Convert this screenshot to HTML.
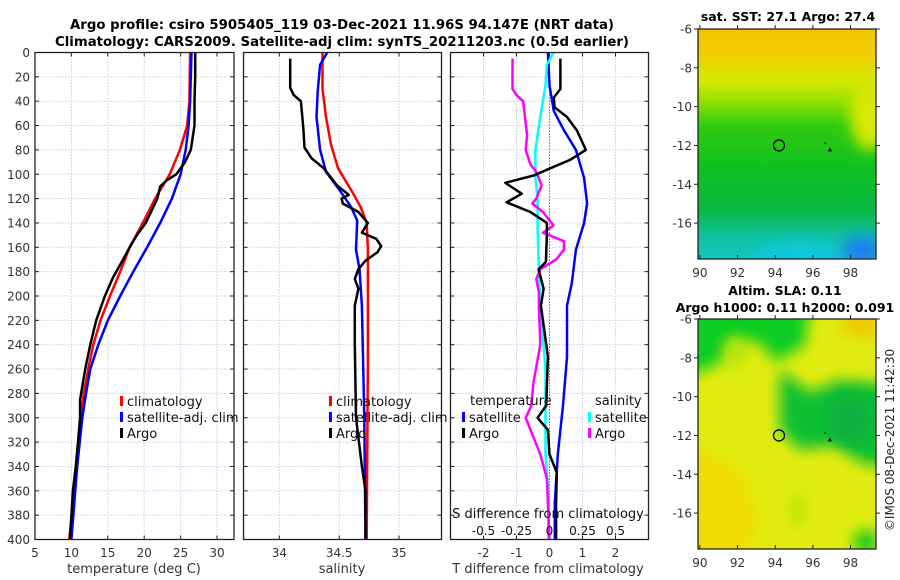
<!DOCTYPE html>
<html><head><meta charset="utf-8"><style>
body{margin:0;background:#fff;}
svg{display:block;font-family:"DejaVu Sans","Liberation Sans",sans-serif;}
</style></head><body>
<svg id="c" width="900" height="580" viewBox="0 0 900 580" xmlns="http://www.w3.org/2000/svg">
<defs>
<linearGradient id="sstg" x1="0" y1="0" x2="0" y2="1">
<stop offset="0" stop-color="#f2c400"/><stop offset="0.12" stop-color="#f0d000"/><stop offset="0.22" stop-color="#d8e800"/><stop offset="0.32" stop-color="#8ee000"/><stop offset="0.42" stop-color="#30cc10"/><stop offset="0.6" stop-color="#10c020"/><stop offset="0.78" stop-color="#08b840"/><stop offset="0.9" stop-color="#10c0a0"/><stop offset="1" stop-color="#10c8c0"/>
</linearGradient>
<filter id="bl" x="-100%" y="-100%" width="300%" height="300%"><feGaussianBlur stdDeviation="7"/></filter>
<clipPath id="m1c"><rect x="698" y="29" width="178" height="230"/></clipPath>
<clipPath id="m2c"><rect x="698" y="319" width="178" height="230"/></clipPath>
</defs>
</svg>
<script>
// ---- data (depth in dbar) ----
const tempDepth=[0,20,40,60,80,90,100,105,110,120,130,140,150,160,170,185,200,220,240,260,285,300,320,340,360,400];
const tempArgo=[27,27,26.9,26.9,26.4,25.6,24.4,23.1,22.2,21.8,21,20.2,19,18,17.1,15.7,14.6,13.4,12.6,11.9,11.2,11.2,10.9,10.6,10.2,9.8];
const climDepth=[0,40,60,80,100,120,140,160,180,200,220,240,260,280,300,340,400];
const tempClim=[26.3,26.2,25.9,24.9,23.5,21.5,19.8,18,16.7,15.3,14,13,12.3,11.7,11.3,10.8,9.7];
const tempSat=[26.5,26.3,26.1,25.7,25,23.8,22.2,20.4,18.5,16.7,15,13.7,12.6,12,11.5,10.8,10];
const salArgoDepth=[5,29,35,40,62,78,87,95,109,117,120,124,131,140,148,153,159,164,171,178,186,194,208,240,300,340,360,400];
const salArgo=[34.09,34.09,34.12,34.18,34.2,34.21,34.27,34.37,34.48,34.58,34.52,34.53,34.66,34.74,34.69,34.81,34.85,34.82,34.72,34.66,34.63,34.66,34.63,34.63,34.64,34.69,34.72,34.72];
const salClimDepth=[0,30,53,75,95,113,127,140,162,250,400];
const salClim=[34.36,34.36,34.39,34.43,34.49,34.6,34.68,34.73,34.74,34.74,34.73];
const salSatDepth=[0,10,32,53,80,98,114,127,138,162,178,208,300,400];
const salSat=[34.4,34.34,34.32,34.31,34.34,34.39,34.51,34.6,34.65,34.64,34.67,34.69,34.71,34.72];
const dTArgoDepth=[5,30,37,45,53,64,80,88,95,101,107,116,123,131,140,150,172,178,194,208,250,290,300,310,330,345,370,400];
const dTArgo=[0.33,0.33,0.13,0.15,0.53,0.83,1.1,0.64,0.03,-0.48,-1.34,-0.84,-1.3,-0.58,-0.08,-0.08,-0.11,-0.33,-0.18,-0.26,-0.05,-0.1,-0.36,-0.05,0,0.22,0.2,0.2];
const dTSatDepth=[0,27,48,64,80,103,124,140,162,189,208,250,290,330,370,400];
const dTSat=[-0.05,0,0.13,0.44,0.8,1.05,1.14,1.05,0.8,0.68,0.53,0.53,0.41,0.25,0.16,0.16];
const dSArgoDepth=[5,30,35,40,68,80,92,98,109,120,124,131,142,148,155,162,170,178,186,197,208,240,270,291,300,330,350,400];
const dSArgo=[-0.28,-0.28,-0.25,-0.2,-0.17,-0.18,-0.145,-0.1,-0.06,-0.1,-0.13,-0.05,0.03,-0.05,0.11,0.11,0.05,-0.07,-0.1,-0.08,-0.08,-0.07,-0.12,-0.14,-0.18,-0.07,-0.02,0];
const dSSatDepth=[0,10,27,53,80,103,120,146,178,208,260,330,360,400];
const dSSat=[0.03,-0.02,-0.03,-0.07,-0.107,-0.107,-0.09,-0.09,-0.08,-0.07,-0.03,-0.03,-0.01,-0.01];
const depthTicks=[0,20,40,60,80,100,120,140,160,180,200,220,240,260,280,300,320,340,360,380,400];
const tTicks=[5,10,15,20,25,30];
const sTicks=[34,34.5,35];
const dtTicks=[-2,-1,0,1,2];
const dsTicks=[-0.5,-0.25,0,0.25,0.5];
const lonTicks=[90,92,94,96,98];
const latTicks=[-6,-8,-10,-12,-14,-16];
const argoLon=94.2, argoLat=-12;

const NS='http://www.w3.org/2000/svg';
const svg=document.getElementById('c');
function mk(tag,attrs,parent){const e=document.createElementNS(NS,tag);for(const k in attrs)e.setAttribute(k,attrs[k]);(parent||svg).appendChild(e);return e;}
function txt(x,y,s,attrs,parent){const e=mk('text',Object.assign({x:x,y:y},attrs||{}),parent);e.textContent=s;return e;}

const Y0=52.5,Y1=539.5;
const yD=d=>Y0+(d/400)*(Y1-Y0);
const panels=[
 {x0:35,x1:234,v0:5,v1:32.33,name:'temperature-panel'},
 {x0:243.5,x1:441.5,v0:33.7,v1:35.355,name:'salinity-panel'},
 {x0:450.5,x1:648.5,v0:-3,v1:3,name:'difference-panel'}];
function xf(p){return v=>p.x0+(v-p.v0)/(p.v1-p.v0)*(p.x1-p.x0);}
const xT=xf(panels[0]),xS=xf(panels[1]),xDT=xf(panels[2]);
const xDS=v=>xDT(v*4);

let t=txt(342,29,'Argo profile: csiro 5905405_119 03-Dec-2021 11.96S 94.147E (NRT data)',{'text-anchor':'middle','font-size':'13.3','font-weight':'bold','fill':'#000'});


t=txt(342,46,'Climatology: CARS2009. Satellite-adj clim: synTS_20211203.nc (0.5d earlier)',{'text-anchor':'middle','font-size':'13.3','font-weight':'bold','fill':'#000'});



function gridPanel(p,ticks,xfun){
 const g=mk('g',{});
 
 
 depthTicks.forEach(d=>{mk('line',{x1:p.x0,x2:p.x1,y1:yD(d),y2:yD(d),stroke:'#c8cde8','stroke-width':1,'stroke-dasharray':'1.5,1.5'},g);
   mk('line',{x1:p.x0,x2:p.x0+4,y1:yD(d),y2:yD(d),stroke:'#222'},g);mk('line',{x1:p.x1-4,x2:p.x1,y1:yD(d),y2:yD(d),stroke:'#222'},g);});
 ticks.forEach(v=>{const x=xfun(v);mk('line',{x1:x,x2:x,y1:Y0,y2:Y1,stroke:'#c8cde8','stroke-width':1,'stroke-dasharray':'1.5,1.5'},g);
   mk('line',{x1:x,x2:x,y1:Y1-4,y2:Y1,stroke:'#222'},g);mk('line',{x1:x,x2:x,y1:Y0,y2:Y0+4,stroke:'#222'},g);
   const l=txt(x,557,String(v),{'text-anchor':'middle','font-size':'12','fill':'#333'},g);
   
   });
 return g;
}
gridPanel(panels[0],tTicks,xT);
gridPanel(panels[1],sTicks,xS);
const g3=gridPanel(panels[2],dtTicks,xDT);
mk('line',{x1:xDT(0),x2:xDT(0),y1:Y0,y2:Y1,stroke:'#333','stroke-width':1,'stroke-dasharray':'1,2'},g3);

depthTicks.forEach(d=>{const l=txt(30,yD(d)+4.5,String(d),{'text-anchor':'end','font-size':'12','fill':'#333'});
 
 });

function line(xs,ys,xfun,col,w,name){
 const pts=xs.map((v,i)=>xfun(v).toFixed(1)+','+yD(ys[i]).toFixed(1)).join(' ');
 const e=mk('polyline',{points:pts,fill:'none',stroke:col,'stroke-width':w,'stroke-linejoin':'round'});
 
 
}
line(tempClim,climDepth,xT,'#ff0000',2.5,'temp-climatology-line');
line(tempSat,climDepth,xT,'#0000ff',2.5,'temp-satellite-line');
line(tempArgo,tempDepth,xT,'#000',2.5,'temp-argo-line');
line(salClim,salClimDepth,xS,'#ff0000',2.5,'sal-climatology-line');
line(salSat,salSatDepth,xS,'#0000ff',2.5,'sal-satellite-line');
line(salArgo,salArgoDepth,xS,'#000',2.5,'sal-argo-line');
line(dTSat,dTSatDepth,xDT,'#0000ff',2.5,'dT-satellite-line');
line(dSSat,dSSatDepth,xDS,'#00ffff',2.5,'dS-satellite-line');
line(dSArgo,dSArgoDepth,xDS,'#ff00ff',2.5,'dS-argo-line');
line(dTArgo,dTArgoDepth,xDT,'#000',2.5,'dT-argo-line');

panels.forEach(p=>{const r=mk('rect',{x:p.x0,y:Y0,width:p.x1-p.x0,height:Y1-Y0,fill:'none',stroke:'#222','stroke-width':1.3});
 
 });

t=txt(134,573,'temperature (deg C)',{'text-anchor':'middle','font-size':'13','fill':'#333'});


t=txt(342,573,'salinity',{'text-anchor':'middle','font-size':'13','fill':'#333'});


t=txt(548,573,'T difference from climatology',{'text-anchor':'middle','font-size':'13','fill':'#333'});


t=txt(548,518,'S difference from climatology',{'text-anchor':'middle','font-size':'13','fill':'#111'});


dsTicks.forEach(v=>{const l=txt(xDS(v),535,String(v),{'text-anchor':'middle','font-size':'12','fill':'#111'});
 
 });

function leg(x,y,col,label,name){
 const g=mk('g',{});
 
 
 mk('rect',{x:x,y:y-10,width:3,height:10,fill:col},g);
 txt(x+7,y,label,{'font-size':'13','fill':'#111'},g);
}
leg(120,406,'#ff0000','climatology','legend-climatology');
leg(120,422,'#0000ff','satellite-adj. clim','legend-satellite');
leg(120,438,'#000','Argo','legend-argo');
leg(329,406,'#ff0000','climatology','legend-sal-climatology');
leg(329,422,'#0000ff','satellite-adj. clim','legend-sal-satellite');
leg(329,438,'#000','Argo','legend-sal-argo');
t=txt(470,405,'temperature',{'font-size':'13','fill':'#111'});


leg(462,422,'#0000ff','satellite','legend-dT-satellite');
leg(462,438,'#000','Argo','legend-dT-argo');
t=txt(595,405,'salinity',{'font-size':'13','fill':'#111'});


leg(588,422,'#00ffff','satellite','legend-dS-satellite');
leg(588,438,'#ff00ff','Argo','legend-dS-argo');

const MX0=698,MX1=876;
const lonX=v=>MX0+(v-89.9)/(99.35-89.9)*(MX1-MX0);
function latY(top){return v=>top+(-6-v)/(-6+17.85)*230;}
function mapAxes(top,name){
 const ly=latY(top);
 const g=mk('g',{});
 
 
 mk('rect',{x:MX0,y:top,width:MX1-MX0,height:230,fill:'none',stroke:'#222','stroke-width':1.3},g);
 lonTicks.forEach(v=>{const x=lonX(v);mk('line',{x1:x,x2:x,y1:top+230,y2:top+226,stroke:'#222'},g);mk('line',{x1:x,x2:x,y1:top,y2:top-4,stroke:'#222'},g);
  txt(x,top+248,String(v),{'text-anchor':'middle','font-size':'12','fill':'#333'},g);});
 latTicks.forEach(v=>{const y=ly(v);mk('line',{x1:MX0,x2:MX0-4,y1:y,y2:y,stroke:'#222'},g);mk('line',{x1:MX1,x2:MX1+4,y1:y,y2:y,stroke:'#222'},g);
  txt(692,y+4.5,String(v),{'text-anchor':'end','font-size':'12','fill':'#333'},g);});
 const c=mk('circle',{cx:lonX(argoLon),cy:ly(argoLat),r:5.5,fill:'none',stroke:'#000','stroke-width':1.3},g);
 
 
 mk('path',{d:`M${lonX(96.9)-2} ${ly(-12.2)+2} l2 -4 l2 4 z`,fill:'#000'},g);
 mk('rect',{x:lonX(96.6),y:ly(-11.85),width:2,height:1,fill:'#000'},g);
}
let m1=mk('g',{'clip-path':'url(#m1c)'});


mk('rect',{x:MX0,y:29,width:178,height:230,fill:'url(#sstg)'},m1);
mk('ellipse',{cx:870,cy:115,rx:20,ry:35,fill:'#d8e800',filter:'url(#bl)'},m1);
mk('ellipse',{cx:800,cy:255,rx:45,ry:14,fill:'#10c8d8',filter:'url(#bl)'},m1);
mk('ellipse',{cx:862,cy:250,rx:20,ry:14,fill:'#1a7ff0',filter:'url(#bl)'},m1);
mapAxes(29,'sst-map');
t=txt(788,21,'sat. SST: 27.1 Argo: 27.4',{'text-anchor':'middle','font-size':'12.5','font-weight':'bold','fill':'#000'});


let m2=mk('g',{'clip-path':'url(#m2c)'});


mk('rect',{x:MX0,y:319,width:178,height:230,fill:'#e0ec10'},m2);
mk('path',{d:'M680 440 L740 470 L760 520 L740 570 L680 570 Z',fill:'#f0dc00',filter:'url(#bl)'},m2);
mk('path',{d:'M680 300 L810 300 L805 345 L775 362 L760 342 L735 342 L722 362 L680 380 Z',fill:'#10cc20',filter:'url(#bl)'},m2);
mk('path',{d:'M780 370 L810 392 L840 380 L900 385 L900 470 L860 462 L835 445 L800 450 L780 430 Z',fill:'#10c030',filter:'url(#bl)'},m2);
mk('ellipse',{cx:850,cy:420,rx:25,ry:25,fill:'#10b040',filter:'url(#bl)'},m2);
mk('ellipse',{cx:735,cy:352,rx:12,ry:16,fill:'#b8e410',filter:'url(#bl)'},m2);
mk('ellipse',{cx:866,cy:542,rx:12,ry:12,fill:'#10c820',filter:'url(#bl)'},m2);
mk('ellipse',{cx:798,cy:510,rx:5,ry:16,fill:'#a8e010',filter:'url(#bl)'},m2);
mk('ellipse',{cx:862,cy:325,rx:22,ry:12,fill:'#f0c800',filter:'url(#bl)'},m2);
mapAxes(319,'sla-map');
t=txt(785,295,'Altim. SLA: 0.11',{'text-anchor':'middle','font-size':'12.5','font-weight':'bold','fill':'#000'});


t=txt(785,312,'Argo h1000: 0.11 h2000: 0.091',{'text-anchor':'middle','font-size':'12.5','font-weight':'bold','fill':'#000'});


t=txt(0,0,'©IMOS 08-Dec-2021 11:42:30',{'text-anchor':'middle','font-size':'12','fill':'#222','transform':'translate(894,440) rotate(-90)'});


</script>
</body></html>
